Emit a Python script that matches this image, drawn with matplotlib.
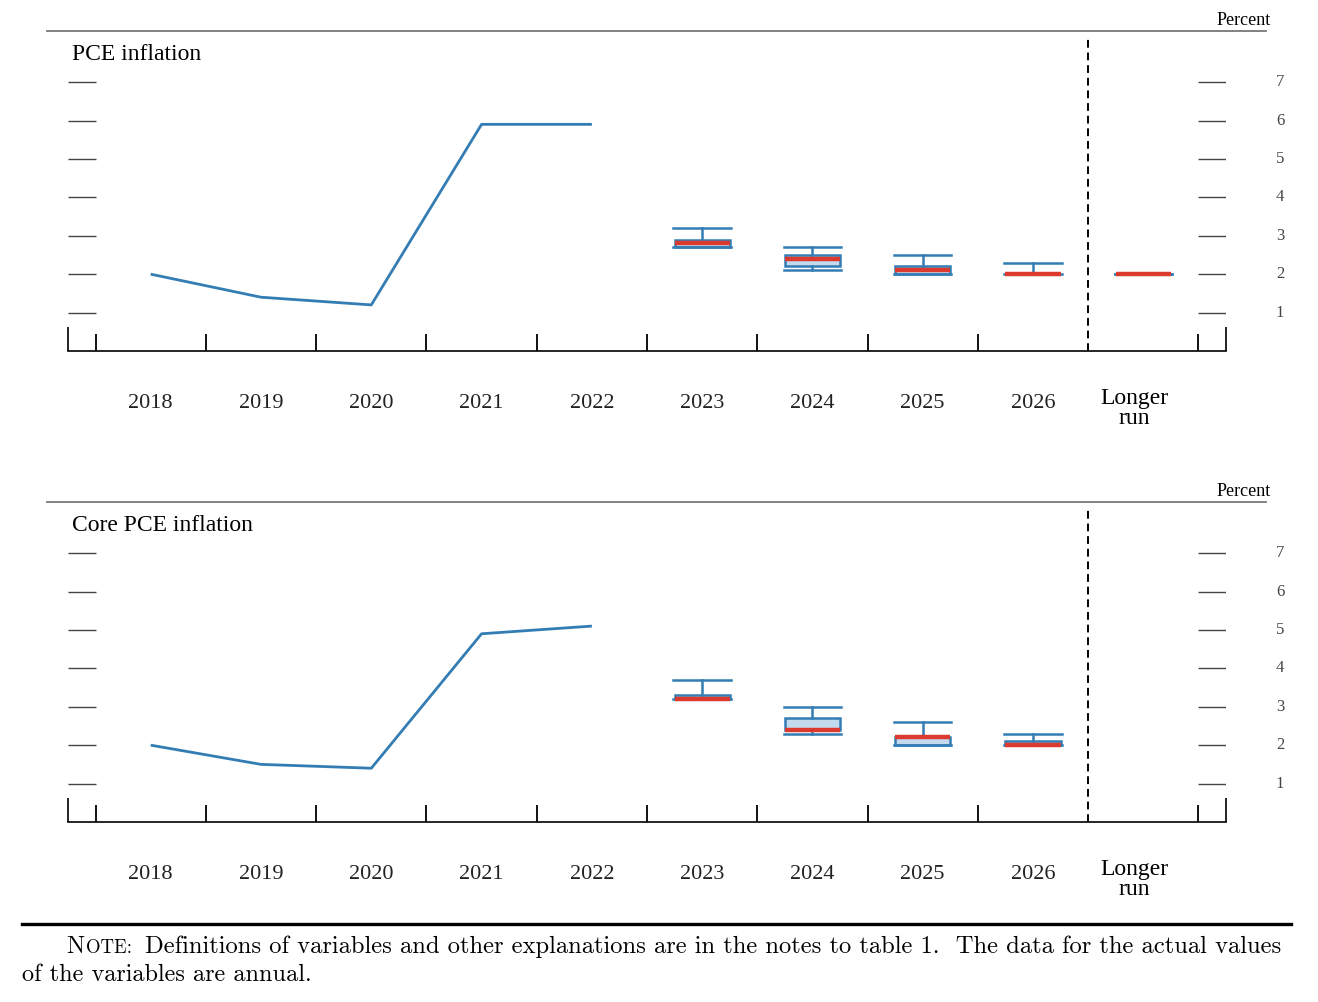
import matplotlib
matplotlib.use("Agg")
import matplotlib.pyplot as plt
from matplotlib.lines import Line2D

# data
years = ["2018", "2019", "2020", "2021", "2022", "2023", "2024", "2025", "2026"]
proj_years = ["2023", "2024", "2025", "2026", "Longer run"]

pce_actual = [2.0, 1.4, 1.2, 5.9, 5.9]
core_actual = [2.0, 1.5, 1.4, 4.9, 5.1]

# projections: range low/high, central tendency low/high, median
pce_range_lo = [2.7, 2.1, 2.0, 2.0, 2.0]
pce_range_hi = [3.2, 2.7, 2.5, 2.3, 2.0]
pce_ct_lo = [2.7, 2.2, 2.0, 2.0, 2.0]
pce_ct_hi = [2.9, 2.5, 2.2, 2.0, 2.0]
pce_median = [2.8, 2.4, 2.1, 2.0, 2.0]

core_range_lo = [3.2, 2.3, 2.0, 2.0]
core_range_hi = [3.7, 3.0, 2.6, 2.3]
core_ct_lo = [3.2, 2.4, 2.0, 2.0]
core_ct_hi = [3.3, 2.7, 2.2, 2.1]
core_median = [3.2, 2.4, 2.2, 2.0]

BLUE = "#347db4"
FILL = "#c4daef"
RED = "#dc3a2e"
SERIF = ["Liberation Serif", "DejaVu Serif"]

W, H = 1318, 1002
fig = plt.figure(figsize=(W / 100, H / 100), dpi=100)


def fx(px):
    return px / W


def fy(py):
    return 1 - py / H


def panel(base_px, title, actual, rlo, rhi, clo, chi, med):
    ax = fig.add_axes([fx(68), fy(base_px), fx(1226) - fx(68), 315 / H])
    ax.set_xlim(-0.75, 9.75)
    ax.set_ylim(0, 8.2)
    for s in ["top", "left", "right"]:
        ax.spines[s].set_visible(False)
    ax.spines["bottom"].set_linewidth(1.2)
    ax.set_yticks([])
    # edge ticks, taller
    ax.vlines([-0.75, 9.75], 0, 0.62, color="black", lw=1.2, clip_on=False)
    # y tick dashes both sides
    for y in range(1, 8):
        ax.hlines(y, -0.75, -0.5, color="#444444", lw=1.0)
        ax.hlines(y, 9.5, 9.75, color="#444444", lw=1.0)
        ax.text(10.24, y, str(y), ha="center", va="center", fontsize=12,
                color="#444444", family=SERIF, clip_on=False)
    # dashed separator
    ax.vlines(8.5, 0, 8.15, color="black", lw=1.4, linestyles=(0, (4, 2.5)))

    ax.plot(range(len(actual)), actual, color=BLUE, lw=2.0, solid_capstyle="butt")

    stats = []
    for i in range(len(med)):
        stats.append({"med": med[i], "q1": clo[i], "q3": chi[i],
                      "whislo": rlo[i], "whishi": rhi[i], "fliers": []})
    pos = [5 + i for i in range(len(med))]
    ax.bxp(stats, positions=pos, widths=0.5, capwidths=0.52, patch_artist=True,
           showfliers=False,
           boxprops=dict(facecolor=FILL, edgecolor=BLUE, lw=1.8),
           whiskerprops=dict(color=BLUE, lw=1.8),
           capprops=dict(color=BLUE, lw=1.8),
           medianprops=dict(color=RED, lw=3.2, solid_capstyle="butt"))
    ax.set_xticks([i - 0.5 for i in range(9)] + [9.5])
    ax.tick_params(axis="x", direction="in", length=12, width=1.3, labelbottom=False)

    for i, yr in enumerate(years):
        ax.text(i, -1.36, yr, ha="center", va="center", fontsize=16,
                color="#222222", family=SERIF, clip_on=False)
    ax.text(8.92, -1.5, "Longer\nrun", ha="center", va="center", fontsize=17,
            linespacing=0.95, color="black", family=SERIF, clip_on=False)

    top_px = base_px - 320
    fig.add_artist(Line2D([fx(47), fx(1266)], [fy(top_px), fy(top_px)],
                          color="#777777", lw=1.3))
    fig.text(fx(1271), fy(top_px - 6), "Percent", ha="right", va="baseline",
             fontsize=13, family=SERIF)
    fig.text(fx(72), fy(top_px + 29), title, ha="left", va="baseline",
             fontsize=17, family=SERIF)
    return ax


panel(351, "PCE inflation", pce_actual, pce_range_lo, pce_range_hi,
      pce_ct_lo, pce_ct_hi, pce_median)
panel(822, "Core PCE inflation", core_actual, core_range_lo, core_range_hi,
      core_ct_lo, core_ct_hi, core_median)

# note
fig.add_artist(Line2D([fx(22), fx(1291)], [fy(924), fy(924)], color="black", lw=2.4))
fig.text(fx(66), fy(953), "N", fontsize=17.5, family="cmr10", va="baseline")
fig.text(fx(86), fy(953), "OTE:", fontsize=13.5, family="cmr10", va="baseline")
fig.text(fx(145), fy(953),
         "Definitions of variables and other explanations are in the notes to table 1.  The data for the actual values",
         fontsize=17.7, family="cmr10", va="baseline", ha="left")
fig.text(fx(22), fy(981), "of the variables are annual.", fontsize=17.5,
         family="cmr10", va="baseline")

fig.savefig("out.png", dpi=100)
